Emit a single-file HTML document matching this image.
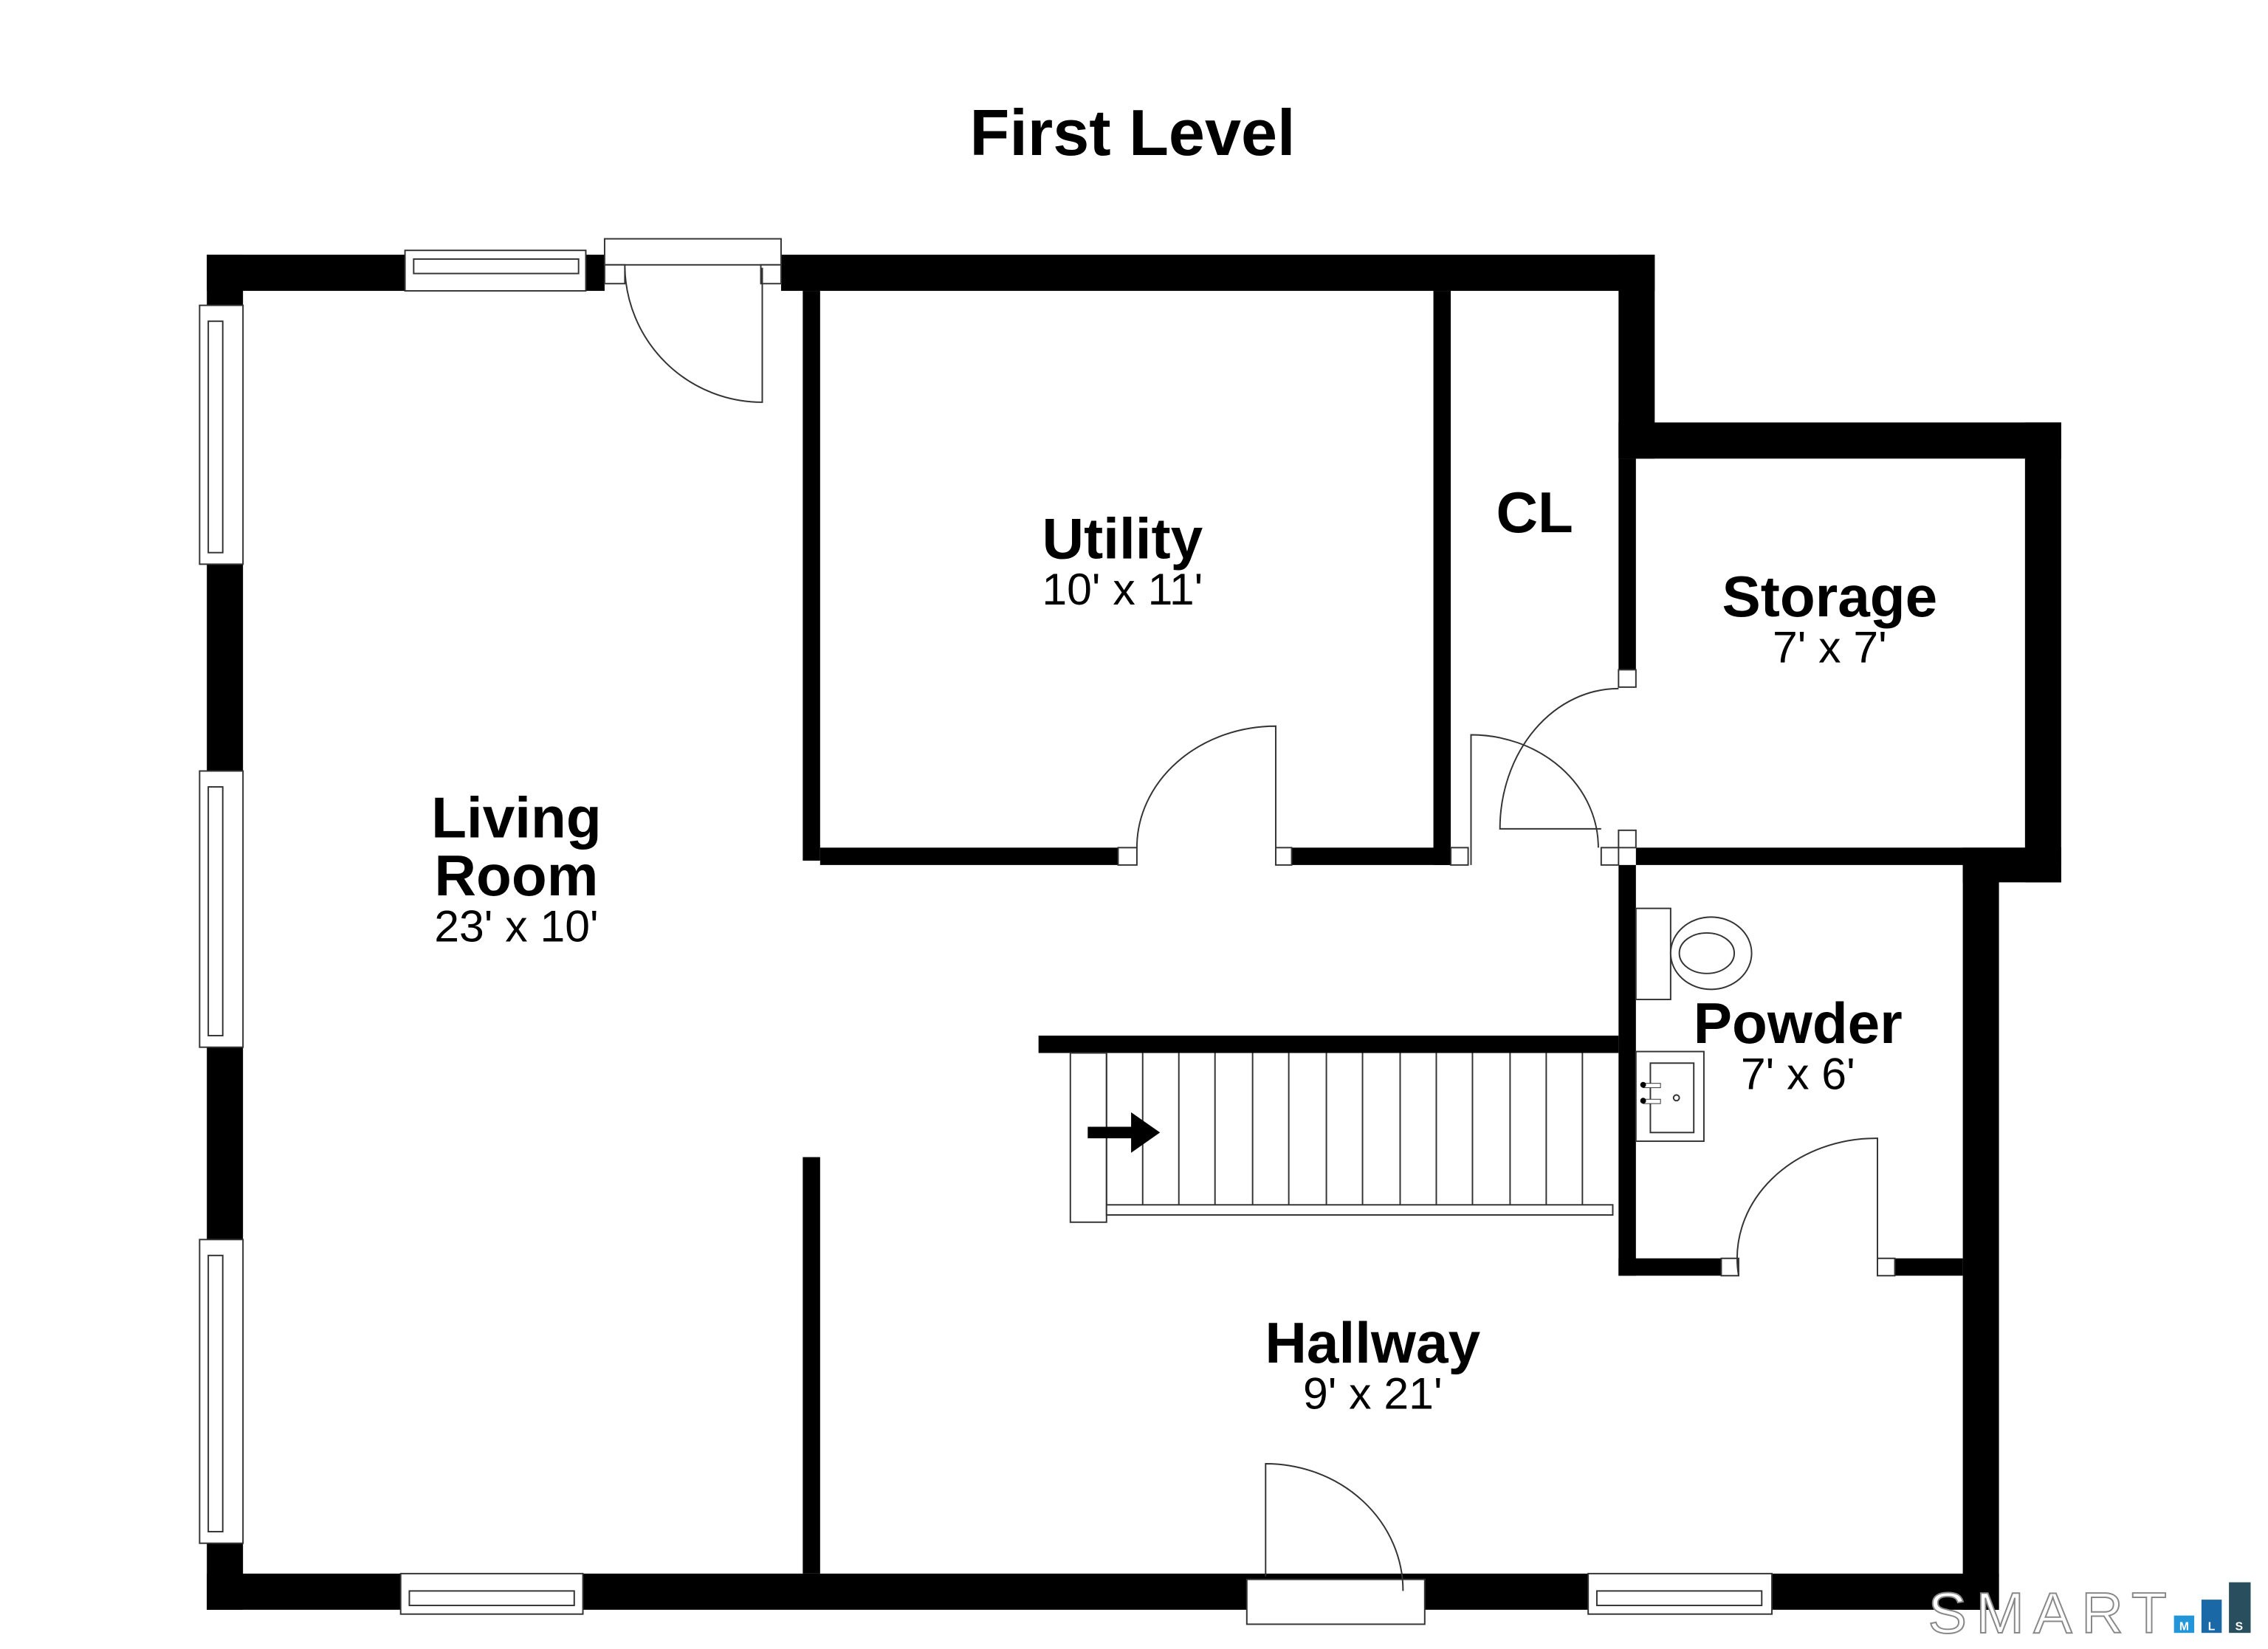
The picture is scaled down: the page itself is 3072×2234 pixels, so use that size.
<!DOCTYPE html>
<html><head><style>html,body{margin:0;padding:0;background:#fff}svg{display:block}</style></head>
<body>
<svg width="3072" height="2234" viewBox="0 0 1568 1140" xmlns="http://www.w3.org/2000/svg" font-family="Liberation Sans, Arial, sans-serif">
<rect width="1568" height="1140" fill="#fff"/>
<text x="783" y="107" text-anchor="middle" font-size="45" font-weight="bold">First Level</text>
<g fill="#000">
<rect x="143" y="176" width="137" height="25"/>
<rect x="405" y="176" width="13" height="25"/>
<rect x="540" y="176" width="604" height="25"/>
<rect x="143" y="176" width="25" height="937"/>
<rect x="143" y="1088" width="1239" height="25"/>
<rect x="1119" y="176" width="25" height="141"/>
<rect x="1119" y="292" width="306" height="25"/>
<rect x="1119" y="317" width="12" height="146"/>
<rect x="1400" y="292" width="25" height="318"/>
<rect x="1131" y="586" width="294" height="12"/>
<rect x="1357" y="586" width="68" height="24"/>
<rect x="1357" y="598" width="25" height="515"/>
<rect x="1119" y="598" width="12" height="284"/>
<rect x="1119" y="870" width="71" height="12"/>
<rect x="1310" y="870" width="47" height="12"/>
<rect x="555" y="201" width="12" height="394"/>
<rect x="567" y="586" width="206" height="12"/>
<rect x="893" y="586" width="110" height="12"/>
<rect x="991" y="201" width="12" height="397"/>
<rect x="555" y="800" width="12" height="288"/>
<rect x="718" y="716" width="401" height="12"/>
</g>
<g fill="#fff" stroke="#333" stroke-width="1">
<rect x="280" y="173" width="125" height="28"/>
<rect x="286" y="179" width="114" height="10"/>
<rect x="138" y="211" width="30" height="179"/><rect x="144" y="222" width="10" height="160"/>
<rect x="138" y="533" width="30" height="191"/><rect x="144" y="544" width="10" height="172"/>
<rect x="138" y="857" width="30" height="210"/><rect x="144" y="868" width="10" height="191"/>
<rect x="277" y="1088" width="126" height="28"/><rect x="283" y="1100" width="114" height="10"/>
<rect x="1098" y="1088" width="127" height="28"/><rect x="1104" y="1100" width="114" height="10"/>
<rect x="418" y="165" width="122" height="18"/>
<rect x="418" y="183" width="14" height="13"/><rect x="526" y="183" width="14" height="13"/>
<rect x="862" y="1092" width="123" height="31"/>
<rect x="773" y="586" width="13" height="12"/><rect x="882" y="586" width="11" height="12"/>
<rect x="1003" y="586" width="12" height="12"/><rect x="1107" y="586" width="12" height="12"/>
<rect x="1119" y="463" width="12" height="12"/><rect x="1119" y="574" width="12" height="12"/>
<rect x="1190" y="870" width="12" height="12"/><rect x="1298" y="870" width="12" height="12"/>
<rect x="1131" y="628" width="24" height="63"/>
<ellipse cx="1183" cy="659" rx="28" ry="25"/>
<ellipse cx="1180" cy="659" rx="19" ry="14"/>
<rect x="1131" y="727" width="47" height="62"/>
<rect x="1141" y="735" width="30" height="48"/>
<rect x="740" y="728" width="25" height="117"/>
<rect x="765" y="833" width="350" height="7"/>
</g>
<g fill="none" stroke="#333" stroke-width="1">
<path d="M527 185 V278 A95 95 0 0 1 432 185"/>
<path d="M882 586 V502 A96 84 0 0 0 786 586"/>
<path d="M1017 598 V508 A88 78 0 0 1 1105 586"/>
<path d="M1119 476 A82 97 0 0 0 1037 573 H1107"/>
<path d="M1298 870 V787 A96 83 0 0 0 1202 882"/>
<path d="M875 1090 V1012 A95 88 0 0 1 970 1100"/>
<circle cx="1159" cy="759" r="2"/>
<path d="M765 728 V833 M790 728 V833 M815 728 V833 M840 728 V833 M866 728 V833 M891 728 V833 M917 728 V833 M942 728 V833 M968 728 V833 M993 728 V833 M1018 728 V833 M1044 728 V833 M1069 728 V833 M1094 728 V833"/>
</g>
<g fill="#000">
<rect x="1136" y="749" width="12" height="3" fill="#fff" stroke="#333" stroke-width="0.5"/>
<rect x="1136" y="760" width="12" height="3" fill="#fff" stroke="#333" stroke-width="0.5"/>
<circle cx="1136" cy="750" r="2"/><circle cx="1136" cy="761" r="2"/>
<path d="M752 779 H782 V769 L802 783 L782 797 V787 H752 Z"/>
</g>
<g text-anchor="middle">
<text x="776" y="386" font-size="40" font-weight="bold">Utility</text>
<text x="776" y="418" font-size="31">10' x 11'</text>
<text x="1061" y="368" font-size="40" font-weight="bold">CL</text>
<text x="1265" y="426" font-size="40" font-weight="bold">Storage</text>
<text x="1265" y="458" font-size="31">7' x 7'</text>
<text x="357" y="579" font-size="40" font-weight="bold">Living</text>
<text x="357" y="619" font-size="40" font-weight="bold">Room</text>
<text x="357" y="651" font-size="31">23' x 10'</text>
<text x="1243" y="721" font-size="40" font-weight="bold">Powder</text>
<text x="1243" y="753" font-size="31">7' x 6'</text>
<text x="949" y="942" font-size="40" font-weight="bold">Hallway</text>
<text x="949" y="974" font-size="31">9' x 21'</text>
</g>
<text x="1333" y="1129" font-size="40" fill="#fff" stroke="#888" stroke-width="1" textLength="165" lengthAdjust="spacing">SMART</text>
<rect x="1503" y="1117" width="14" height="12" fill="#2296d9"/>
<rect x="1522" y="1106" width="14" height="23" fill="#1a68a6"/>
<rect x="1541" y="1094" width="15" height="35" fill="#294f5e"/>
<g font-size="8" font-weight="bold" fill="#fff" text-anchor="middle">
<text x="1510" y="1127">M</text><text x="1529" y="1127">L</text><text x="1548" y="1127">S</text>
</g>
</svg>
</body></html>
